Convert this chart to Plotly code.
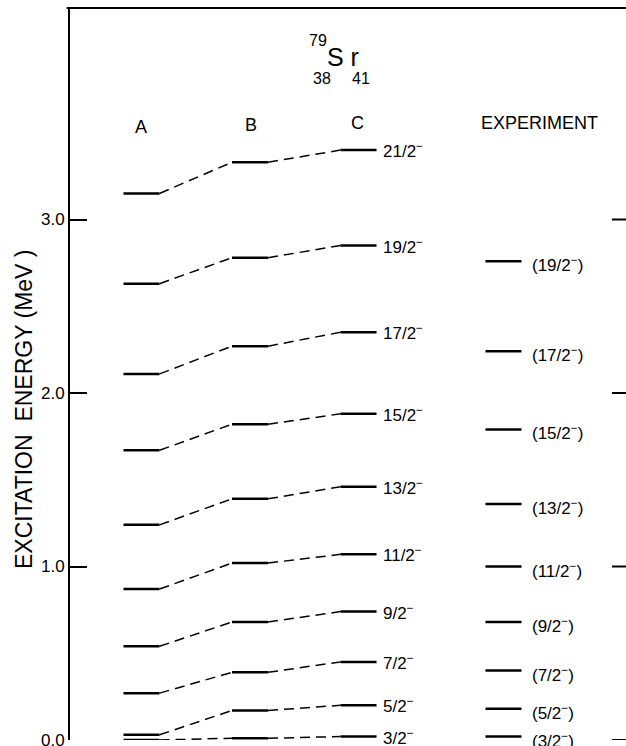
import plotly.graph_objects as go

# ---- data (MeV) ----
spins = ["3/2", "5/2", "7/2", "9/2", "11/2", "13/2", "15/2", "17/2", "19/2", "21/2"]
calc_A = [0.00, 0.03, 0.27, 0.54, 0.87, 1.24, 1.67, 2.11, 2.63, 3.15]
calc_B = [0.01, 0.17, 0.39, 0.68, 1.02, 1.39, 1.82, 2.27, 2.78, 3.33]
calc_C = [0.02, 0.20, 0.45, 0.74, 1.07, 1.46, 1.88, 2.35, 2.85, 3.40]
exp_spins = ["3/2", "5/2", "7/2", "9/2", "11/2", "13/2", "15/2", "17/2", "19/2"]
exp_E = [0.02, 0.18, 0.40, 0.68, 1.00, 1.36, 1.79, 2.24, 2.76]
column_names = ["A", "B", "C", "EXPERIMENT"]
y_ticks = [0.0, 1.0, 2.0, 3.0]
right_ticks = [0.0, 1.0, 2.0, 3.0]

# ---- layout parameters ----
col_x = [1.0, 2.0, 3.0, 4.336]
hw = 0.166
x_range = [0.341, 5.465]
y_range = [0.0, 4.219]
FONT = "Liberation Sans, Arial, sans-serif"

fig = go.Figure()

# level segments
for ci, vals in enumerate([calc_A, calc_B, calc_C, exp_E]):
    xs, ys = [], []
    for v in vals:
        xs += [col_x[ci] - hw, col_x[ci] + hw, None]
        ys += [v, v, None]
    fig.add_trace(go.Scatter(x=xs, y=ys, mode="lines",
                             line=dict(color="black", width=2.5),
                             hoverinfo="skip", showlegend=False))

# dashed connectors A->B, B->C
xs, ys = [], []
for a, b, c in zip(calc_A, calc_B, calc_C):
    xs += [col_x[0] + hw, col_x[1] - hw, None, col_x[1] + hw, col_x[2] - hw, None]
    ys += [a, b, None, b, c, None]
fig.add_trace(go.Scatter(x=xs, y=ys, mode="lines",
                         line=dict(color="black", width=1.5, dash="10px,6px"),
                         hoverinfo="skip", showlegend=False))

# right-edge ticks (neighbouring panel)
xs, ys = [], []
for t in right_ticks:
    xs += [x_range[1] - 0.13, x_range[1], None]
    ys += [t, t, None]
fig.add_trace(go.Scatter(x=xs, y=ys, mode="lines",
                         line=dict(color="black", width=2),
                         hoverinfo="skip", showlegend=False, cliponaxis=False))

ann = []
# spin labels next to C
for s, v in zip(spins, calc_C):
    ann.append(dict(x=col_x[2] + 0.21, y=v, xref="x", yref="y",
                    text=f"{s}<sup>−</sup>", showarrow=False,
                    xanchor="left", yanchor="middle",
                    font=dict(size=17, color="black", family=FONT)))
# experiment labels
for s, v in zip(exp_spins, exp_E):
    ann.append(dict(x=col_x[3] + 0.245, y=v, xref="x", yref="y",
                    text=f"({s}<sup>−</sup>)", showarrow=False,
                    xanchor="left", yanchor="middle", yshift=-3,
                    font=dict(size=17, color="black", family=FONT)))

# page-pixel -> paper coordinates (plot area spans x 70..626, y 8..740)
def P(px, py):
    return (px - 70) / 556, (740 - py) / 732

# column headers
head_px = [(141, 127), (251, 125), (357, 123), (539, 123)]
for name, (px, py) in zip(column_names, head_px):
    xp, yp = P(px, py)
    ann.append(dict(x=xp, y=yp, xref="paper", yref="paper", text=name,
                    showarrow=False, xanchor="center", yanchor="middle",
                    font=dict(size=18, color="black", family=FONT)))

# nuclide symbol
for txt, (px, py), sz in [("S r", (343, 57), 25), ("79", (318, 40), 16),
                          ("38", (322, 78), 16), ("41", (361, 78), 16)]:
    xp, yp = P(px, py)
    ann.append(dict(x=xp, y=yp, xref="paper", yref="paper", text=txt,
                    showarrow=False, xanchor="center", yanchor="middle",
                    font=dict(size=sz, color="black", family=FONT)))

# y-axis title
xp, yp = P(24, 410)
ann.append(dict(x=xp, y=yp, xref="paper", yref="paper",
                text="EXCITATION  ENERGY (MeV )", textangle=-90,
                showarrow=False, xanchor="center", yanchor="middle",
                font=dict(size=23, color="black", family=FONT)))

# top frame line
shapes = [dict(type="line", xref="paper", yref="paper", x0=-0.006, x1=1.0,
               y0=1, y1=1, line=dict(color="black", width=2))]

fig.update_layout(
    width=626, height=746,
    margin=dict(l=70, r=0, t=8, b=6, autoexpand=False),
    paper_bgcolor="white", plot_bgcolor="white",
    annotations=ann, shapes=shapes,
    xaxis=dict(range=x_range, showline=False, showgrid=False, zeroline=False,
               showticklabels=False, ticks="", automargin=False),
    yaxis=dict(range=y_range, showline=True, linecolor="black", linewidth=2,
               showgrid=False, zeroline=False, tickvals=y_ticks,
               tickformat=".1f", ticks="inside", ticklen=17, tickwidth=2,
               tickcolor="black", ticklabeloverflow="allow", automargin=False,
               tickfont=dict(size=17, color="black", family=FONT)),
)

fig.write_html(
    "out.html",
    config={"displayModeBar": False},
    post_script="document.body.style.margin='0';"
                "document.documentElement.style.overflow='hidden';"
                "document.body.style.overflow='hidden';",
)
